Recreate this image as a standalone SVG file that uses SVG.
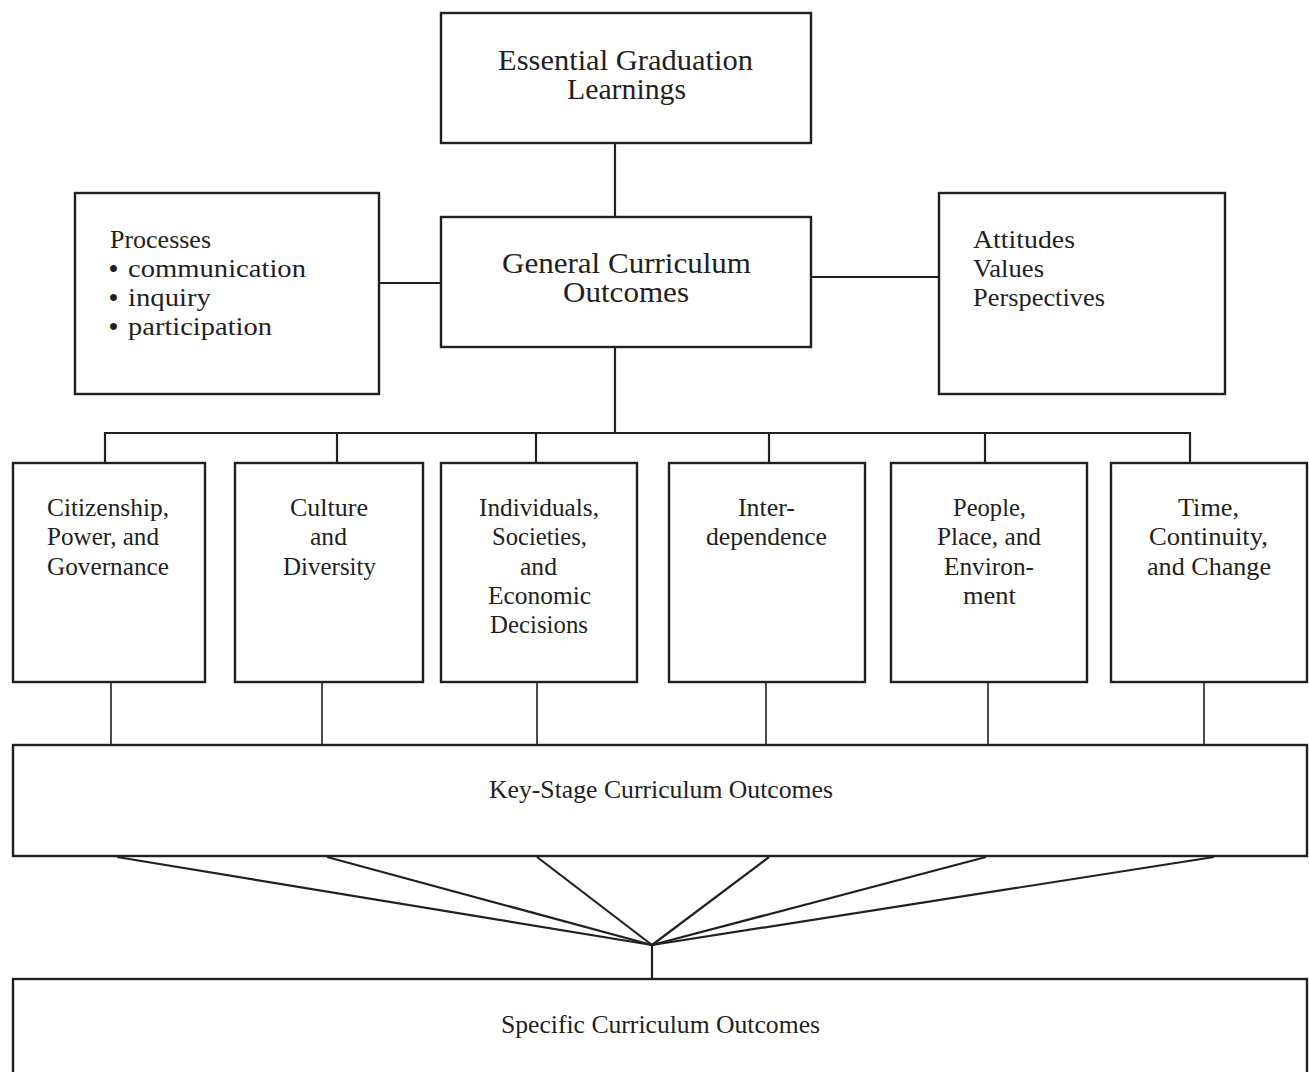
<svg xmlns="http://www.w3.org/2000/svg" width="1309" height="1072" viewBox="0 0 1309 1072">
<style>
.box{fill:#fff;stroke:#231f20;stroke-width:2.4}
.c{fill:none;stroke:#231f20;stroke-width:2.2}
.thin{stroke-width:1.6}
text{font-family:"Liberation Serif","Times New Roman",serif;fill:#231f20}
.big{font-size:29px}
.mid{font-size:25.5px}
.sm{font-size:26px}
.bul{font-weight:bold}
</style>
<rect width="1309" height="1072" fill="#fff"/>
<g id="connectors">
<line class="c" x1="615" y1="143" x2="615" y2="217"/>
<line class="c" x1="379" y1="283" x2="441" y2="283"/>
<line class="c" x1="811" y1="277" x2="939" y2="277"/>
<line class="c" x1="615" y1="347" x2="615" y2="433"/>
<polyline class="c" points="105,463 105,433 1190,433 1190,463"/>
<line class="c" x1="337" y1="433" x2="337" y2="463"/>
<line class="c" x1="536" y1="433" x2="536" y2="463"/>
<line class="c" x1="769" y1="433" x2="769" y2="463"/>
<line class="c" x1="985" y1="433" x2="985" y2="463"/>
<line class="c thin" x1="111" y1="683" x2="111" y2="745"/>
<line class="c thin" x1="322" y1="683" x2="322" y2="745"/>
<line class="c thin" x1="537" y1="683" x2="537" y2="745"/>
<line class="c thin" x1="766" y1="683" x2="766" y2="745"/>
<line class="c thin" x1="988" y1="683" x2="988" y2="745"/>
<line class="c thin" x1="1204" y1="683" x2="1204" y2="745"/>
<g class="c" stroke-width="2.6">
<line x1="117" y1="857" x2="652" y2="945"/>
<line x1="327" y1="857" x2="652" y2="945"/>
<line x1="537" y1="857" x2="652" y2="945"/>
<line x1="769" y1="857" x2="652" y2="945"/>
<line x1="986" y1="857" x2="652" y2="945"/>
<line x1="1214" y1="857" x2="652" y2="945"/>
</g>
<line class="c" x1="652" y1="945" x2="652" y2="979"/>
</g>
<g id="egl">
<rect class="box" x="441" y="13" width="370" height="130"/>
<text class="big" x="498" y="70" textLength="255" lengthAdjust="spacingAndGlyphs">Essential Graduation</text>
<text class="big" x="567" y="99" textLength="119" lengthAdjust="spacingAndGlyphs">Learnings</text>
</g>
<g id="gco">
<rect class="box" x="441" y="217" width="370" height="130"/>
<text class="big" x="502" y="273" textLength="249" lengthAdjust="spacingAndGlyphs">General Curriculum</text>
<text class="big" x="563" y="302" textLength="126" lengthAdjust="spacingAndGlyphs">Outcomes</text>
</g>
<g id="processes">
<rect class="box" x="75" y="193" width="304" height="201"/>
<text class="mid" x="110" y="248" textLength="101" lengthAdjust="spacingAndGlyphs">Processes</text>
<text class="mid" x="109" y="277"><tspan class="bul">•</tspan><tspan x="128" textLength="178" lengthAdjust="spacingAndGlyphs">communication</tspan></text>
<text class="mid" x="109" y="306"><tspan class="bul">•</tspan><tspan x="128" textLength="83" lengthAdjust="spacingAndGlyphs">inquiry</tspan></text>
<text class="mid" x="109" y="335"><tspan class="bul">•</tspan><tspan x="128" textLength="144" lengthAdjust="spacingAndGlyphs">participation</tspan></text>
</g>
<g id="attitudes">
<rect class="box" x="939" y="193" width="286" height="201"/>
<text class="mid" x="973" y="248" textLength="102" lengthAdjust="spacingAndGlyphs">Attitudes</text>
<text class="mid" x="973" y="277" textLength="71" lengthAdjust="spacingAndGlyphs">Values</text>
<text class="mid" x="973" y="306" textLength="132" lengthAdjust="spacingAndGlyphs">Perspectives</text>
</g>
<g id="citizenship">
<rect class="box" x="13" y="463" width="192" height="219"/>
<text class="mid" x="47" y="516" textLength="122" lengthAdjust="spacingAndGlyphs">Citizenship,</text>
<text class="mid" x="47" y="545" textLength="112" lengthAdjust="spacingAndGlyphs">Power, and</text>
<text class="mid" x="47" y="575" textLength="122" lengthAdjust="spacingAndGlyphs">Governance</text>
</g>
<g id="culture">
<rect class="box" x="235" y="463" width="188" height="219"/>
<text class="mid" x="290" y="516" textLength="78" lengthAdjust="spacingAndGlyphs">Culture</text>
<text class="mid" x="310" y="545" textLength="37" lengthAdjust="spacingAndGlyphs">and</text>
<text class="mid" x="283" y="575" textLength="93" lengthAdjust="spacingAndGlyphs">Diversity</text>
</g>
<g id="individuals">
<rect class="box" x="441" y="463" width="196" height="219"/>
<text class="mid" x="479" y="516" textLength="120" lengthAdjust="spacingAndGlyphs">Individuals,</text>
<text class="mid" x="492" y="545" textLength="95" lengthAdjust="spacingAndGlyphs">Societies,</text>
<text class="mid" x="520" y="575" textLength="37" lengthAdjust="spacingAndGlyphs">and</text>
<text class="mid" x="488" y="604" textLength="103" lengthAdjust="spacingAndGlyphs">Economic</text>
<text class="mid" x="490" y="633" textLength="98" lengthAdjust="spacingAndGlyphs">Decisions</text>
</g>
<g id="interdependence">
<rect class="box" x="669" y="463" width="196" height="219"/>
<text class="mid" x="738" y="516" textLength="57" lengthAdjust="spacingAndGlyphs">Inter-</text>
<text class="mid" x="706" y="545" textLength="121" lengthAdjust="spacingAndGlyphs">dependence</text>
</g>
<g id="people">
<rect class="box" x="891" y="463" width="196" height="219"/>
<text class="mid" x="953" y="516" textLength="73" lengthAdjust="spacingAndGlyphs">People,</text>
<text class="mid" x="937" y="545" textLength="104" lengthAdjust="spacingAndGlyphs">Place, and</text>
<text class="mid" x="944" y="575" textLength="90" lengthAdjust="spacingAndGlyphs">Environ-</text>
<text class="mid" x="963" y="604" textLength="53" lengthAdjust="spacingAndGlyphs">ment</text>
</g>
<g id="time">
<rect class="box" x="1111" y="463" width="196" height="219"/>
<text class="mid" x="1178" y="516" textLength="61" lengthAdjust="spacingAndGlyphs">Time,</text>
<text class="mid" x="1149" y="545" textLength="119" lengthAdjust="spacingAndGlyphs">Continuity,</text>
<text class="mid" x="1147" y="575" textLength="124" lengthAdjust="spacingAndGlyphs">and Change</text>
</g>
<g id="keystage">
<rect class="box" x="13" y="745" width="1294" height="111"/>
<text class="sm" x="489" y="798" textLength="344" lengthAdjust="spacingAndGlyphs">Key-Stage Curriculum Outcomes</text>
</g>
<g id="specific">
<rect class="box" x="13" y="979" width="1294" height="110"/>
<text class="sm" x="501" y="1033" textLength="319" lengthAdjust="spacingAndGlyphs">Specific Curriculum Outcomes</text>
</g>
</svg>
